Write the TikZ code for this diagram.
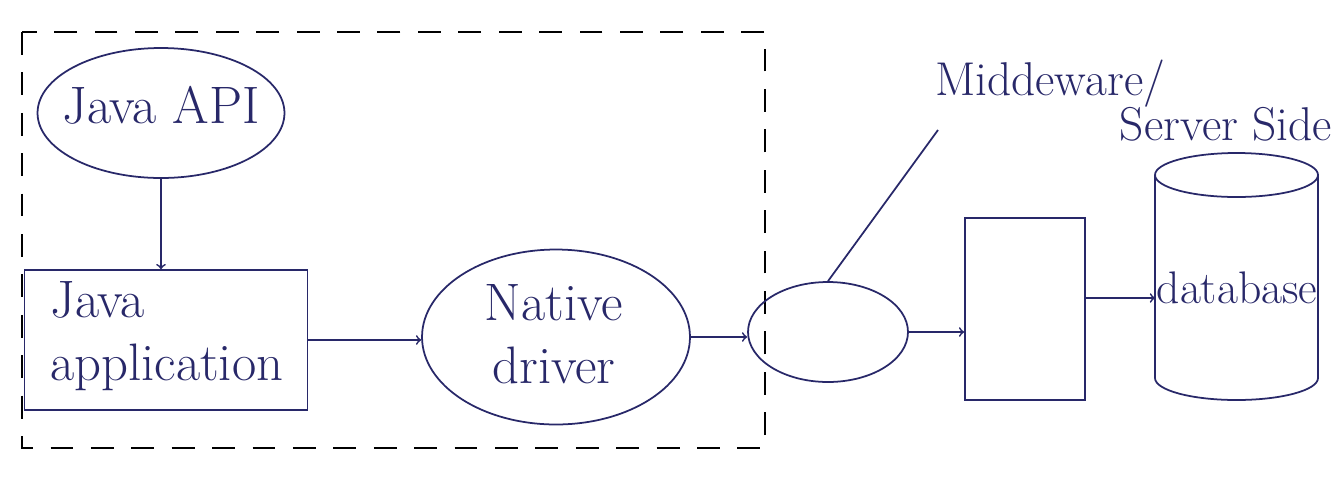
\documentclass[tikz,border=0pt]{standalone}
\usetikzlibrary{shapes.geometric}
\definecolor{ink}{RGB}{40,40,105}
\tikzset{
    hand/.style={font=\fontsize{30}{36}\selectfont, text=ink},
    blob/.style={draw=ink, ellipse, line width=1pt, inner sep=0pt},
    box/.style={draw=ink, rectangle, line width=1pt, inner sep=0pt},
}
\begin{document}
\begin{tikzpicture}[x=0.02cm, y=-0.02cm]
    \useasboundingbox (0,0) rectangle (1342,478);
    % client side
    \draw[line width=1.2pt, dash pattern=on 13pt off 10pt] (22,32) rectangle (765,448);
    \node[blob, minimum width=4.94cm, minimum height=2.6cm] (api) at (161,113) {};
    \node[hand] at (161,105) {Java API};
    \node[box, minimum width=5.66cm, minimum height=2.8cm] (app) at (166,340) {};
    \node[hand, align=left, anchor=west] at (44,336) {Java\\application};
    \node[blob, minimum width=5.36cm, minimum height=3.5cm] (drv) at (556,337) {};
    \node[hand, align=center] at (554,334) {Native\\driver};
    \draw[->, line width=1pt, ink] (api) -- (api |- app.north);
    \draw[->, line width=1pt, ink] (app.east) -- (app.east -| drv.west);
    % server side
    \node[blob, minimum width=3.2cm, minimum height=2cm] (mid) at (828,332) {};
    \node[box, minimum width=2.4cm, minimum height=3.64cm] (srv) at (1025,309) {};
    \draw[ink, line width=1pt] (1155,175) -- (1155,378)
        arc[start angle=180, end angle=0, x radius=81.5, y radius=22] -- (1318,175);
    \draw[ink, line width=1pt] (1236.5,175) ellipse [x radius=81.5, y radius=22];
    \coordinate (db) at (1155,298);
    \node[hand, font=\fontsize{26}{30}\selectfont] at (1237,288) {database};
    \draw[->, line width=1pt, ink] (drv.east) -- (drv.east -| mid.west);
    \draw[->, line width=1pt, ink] (mid.east) -- (mid.east -| srv.west);
    \draw[->, line width=1pt, ink] (srv.east |- db) -- (db);
    % label
    \node[hand, font=\fontsize{27}{30}\selectfont] (lbl) at (1050,84) {Middeware/};
    \node[hand, font=\fontsize{27}{30}\selectfont] at (1226,124) {Server Side};
    \draw[line width=1pt, ink] (938,130) -- (mid.north);
\end{tikzpicture}
\end{document}
